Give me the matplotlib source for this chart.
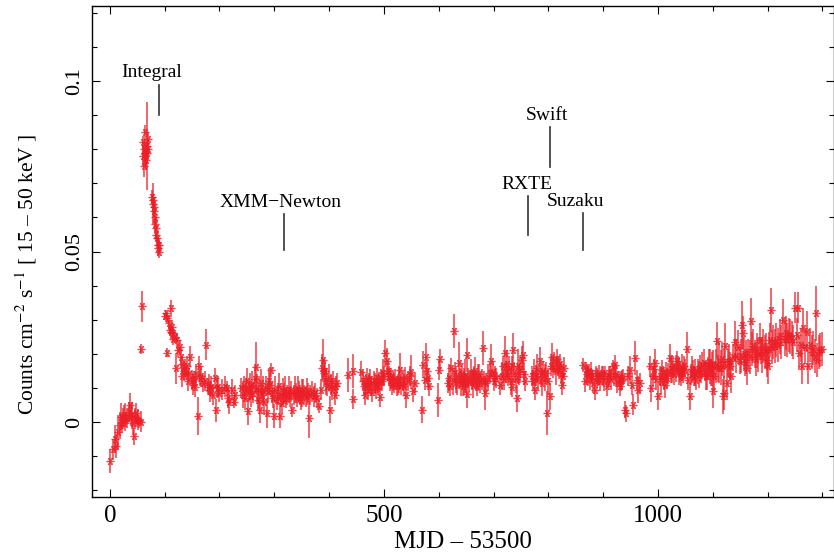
import matplotlib
matplotlib.use("Agg")
import matplotlib.pyplot as plt
from matplotlib.ticker import MultipleLocator

# ---------------------------------------------------------------------------
# Кривая блеска 15-50 кэВ по участкам
# ---------------------------------------------------------------------------
pre_x = [0, 5, 10, 12, 15, 18, 20, 22, 24, 26, 28, 30, 32, 34, 36, 38, 40,
         42, 44, 46, 48, 50, 52, 54, 56, 57, 58]
pre_y = [-0.0113, -0.008, -0.005, -0.007, -0.003, -0.001, 0.0016, -0.0003,
         0.001, 0.002, 0.0015, 0.0006, 0.0012, 0.003, 0.005, 0.0017, 0.002,
         -0.0003, -0.0042, 0.001, 0.0026, 0.0005, 0.0007, 0.0002, 0.0001,
         0.0215, 0.0339]
pre_e = [0.0035, 0.003, 0.004, 0.0035, 0.005, 0.004, 0.004, 0.003, 0.003,
         0.003, 0.004, 0.002, 0.003, 0.003, 0.0035, 0.003, 0.004, 0.003,
         0.0025, 0.003, 0.003, 0.002, 0.003, 0.002, 0.003, 0.0015, 0.0045]

flare_x = [60, 61, 62, 63, 64, 65, 66, 67, 68, 69, 70,
           77, 78, 79, 80, 81, 82, 83, 84, 85, 86, 87, 88, 89, 90]
flare_y = [0.078, 0.082, 0.075, 0.080, 0.079, 0.085, 0.077, 0.081, 0.079,
           0.083, 0.080,
           0.066, 0.064, 0.065, 0.062, 0.063, 0.060, 0.058, 0.057, 0.055,
           0.054, 0.052, 0.051, 0.050, 0.052]
flare_e = [0.003, 0.002, 0.003, 0.002, 0.004, 0.002, 0.003, 0.013, 0.003,
           0.002, 0.003,
           0.002, 0.006, 0.002, 0.002, 0.003, 0.002, 0.002, 0.003, 0.002,
           0.002, 0.002, 0.002, 0.002, 0.002]

decay_x = [100, 102, 104, 105, 107, 109, 111, 112, 113, 115,
           116, 118, 120, 122, 125, 128, 130, 131, 132, 135,
           137, 139, 141, 142, 144, 146, 149, 151, 153, 155,
           157, 160, 162, 164, 167, 170, 173, 176, 179, 181,
           183, 185, 188, 191, 194, 196, 197, 200, 205, 210,
           213, 216, 218, 222, 226, 229]
decay_y = [0.031, 0.032, 0.0305, 0.0204, 0.029, 0.027, 0.0265, 0.0334, 0.028, 0.026,
           0.0245, 0.025, 0.0158, 0.024, 0.021, 0.022, 0.019, 0.0134, 0.017, 0.015,
           0.016, 0.0144, 0.0163, 0.012, 0.014, 0.0192, 0.0124, 0.011, 0.0125, 0.0104,
           0.014, 0.0018, 0.0163, 0.013, 0.0134, 0.0114, 0.012, 0.0227, 0.0104, 0.011,
           0.009, 0.0104, 0.008, 0.0129, 0.0034, 0.010, 0.0104, 0.0085, 0.0095, 0.0104,
           0.010, 0.007, 0.006, 0.0095, 0.006, 0.008]
decay_e = [0.001, 0.001, 0.0015, 0.0012, 0.002, 0.0015, 0.002, 0.0025, 0.002, 0.002,
           0.002, 0.0015, 0.0045, 0.002, 0.002, 0.002, 0.0025, 0.003, 0.0025, 0.003,
           0.0025, 0.002, 0.003, 0.003, 0.002, 0.003, 0.003, 0.003, 0.0025, 0.003,
           0.003, 0.0055, 0.003, 0.0025, 0.003, 0.0025, 0.003, 0.0045, 0.0025, 0.003,
           0.003, 0.003, 0.003, 0.003, 0.0035, 0.003, 0.003, 0.0025, 0.003, 0.003,
           0.002, 0.003, 0.0035, 0.003, 0.002, 0.003]

xmm_x = [240, 243, 245, 247, 249, 250, 252, 254, 256, 258,
         260, 262, 264, 266, 268, 270, 272, 274, 276, 278,
         280, 282, 284, 286, 288, 290, 292, 294, 296, 298,
         300, 302, 304, 306, 308, 310, 312, 314, 316, 318,
         320, 322, 324, 326, 328, 330, 333, 335, 337, 339,
         341, 343, 345, 347, 349, 351, 353, 355, 357, 359,
         361, 363, 366, 369, 372, 375, 378, 382, 385, 387,
         389, 391, 393, 395, 397, 399, 401, 403, 405, 407,
         410, 412, 414]
xmm_y = [0.010, 0.008, 0.0105, 0.007, 0.0095, 0.012, 0.0031, 0.009, 0.0105, 0.0075,
         0.011, 0.0085, 0.0125, 0.0161, 0.010, 0.0065, 0.009, 0.0036, 0.0115, 0.008,
         0.0095, 0.006, 0.0105, 0.0027, 0.009, 0.0119, 0.011, 0.0153, 0.0085, 0.007,
         0.0017, 0.0095, 0.0065, 0.008, 0.0105, 0.0017, 0.0075, 0.0056, 0.009, 0.0085,
         0.0095, 0.007, 0.008, 0.0095, 0.0075, 0.009, 0.0036, 0.008, 0.0095, 0.0085,
         0.0075, 0.0095, 0.009, 0.008, 0.0065, 0.0085, 0.0095, 0.008, 0.0075, 0.009,
         0.0085, 0.0013, 0.008, 0.009, 0.0075, 0.0085, 0.007, 0.0048, 0.0095, 0.016,
         0.0183, 0.0145, 0.015, 0.012, 0.0105, 0.013, 0.0036, 0.011, 0.0095, 0.012,
         0.008, 0.0105, 0.0115]
xmm_e = [0.003, 0.004, 0.003, 0.0035, 0.003, 0.004, 0.004, 0.003, 0.004, 0.003,
         0.004, 0.003, 0.004, 0.0075, 0.004, 0.003, 0.0045, 0.004, 0.004, 0.003,
         0.004, 0.004, 0.003, 0.0045, 0.003, 0.004, 0.003, 0.002, 0.003, 0.003,
         0.0035, 0.004, 0.003, 0.003, 0.004, 0.0035, 0.003, 0.003, 0.004, 0.003,
         0.004, 0.003, 0.003, 0.004, 0.003, 0.003, 0.002, 0.003, 0.004, 0.003,
         0.003, 0.004, 0.003, 0.003, 0.003, 0.004, 0.003, 0.003, 0.003, 0.004,
         0.003, 0.006, 0.003, 0.003, 0.003, 0.003, 0.003, 0.002, 0.003, 0.004,
         0.006, 0.004, 0.003, 0.004, 0.003, 0.004, 0.004, 0.003, 0.003, 0.003,
         0.003, 0.003, 0.003]

mid1_x = [435, 443, 444, 459, 461, 463, 465, 467, 469, 471,
          473, 475, 477, 479, 481, 483, 485, 487, 489, 491,
          493, 495, 497, 499, 501, 502, 505, 507, 509, 511,
          513, 515, 517, 519, 521, 523, 525, 527, 530, 532,
          534, 536, 538, 541, 544, 547, 550, 553, 556,
          570, 572, 575, 577, 579, 581, 583]
mid1_y = [0.0139, 0.0151, 0.0067, 0.0148, 0.012, 0.0105, 0.008, 0.011, 0.013, 0.0095,
          0.0115, 0.0125, 0.0105, 0.0088, 0.012, 0.0113, 0.0098, 0.013, 0.011, 0.0118,
          0.0074, 0.0125, 0.012, 0.0145, 0.0135, 0.0202, 0.0178, 0.015, 0.0135, 0.0122,
          0.013, 0.011, 0.0122, 0.0115, 0.0125, 0.0105, 0.011, 0.0125, 0.0153, 0.011,
          0.012, 0.0105, 0.0132, 0.008, 0.012, 0.0135, 0.0148, 0.009, 0.0115,
          0.0036, 0.0168, 0.0124, 0.0192, 0.015, 0.013, 0.0105]
mid1_e = [0.005, 0.005, 0.003, 0.003, 0.003, 0.003, 0.003, 0.003, 0.003, 0.003,
          0.003, 0.003, 0.003, 0.003, 0.003, 0.003, 0.003, 0.003, 0.003, 0.003,
          0.003, 0.003, 0.003, 0.004, 0.003, 0.004, 0.004, 0.003, 0.003, 0.003,
          0.003, 0.003, 0.003, 0.003, 0.003, 0.003, 0.003, 0.004, 0.005, 0.003,
          0.003, 0.003, 0.003, 0.004, 0.003, 0.003, 0.005, 0.003, 0.003,
          0.004, 0.004, 0.003, 0.004, 0.003, 0.003, 0.003]

mid2_x = [598, 600, 602, 616, 619, 621, 623, 626, 628, 630,
          632, 634, 636, 638, 640, 642, 644, 646, 648, 650,
          651, 652, 654, 656, 658, 660, 662, 664, 666, 668,
          670, 672, 674, 676, 678, 680, 682, 684, 687, 690,
          693, 696, 699, 701, 703, 705, 712, 715, 717, 719,
          721, 723, 725, 727, 729, 731, 733, 734, 736, 738,
          740, 742, 744, 746, 748, 751, 754, 756, 758]
mid2_y = [0.0065, 0.0153, 0.0185, 0.0114, 0.013, 0.0105, 0.0158, 0.012, 0.0267, 0.0145,
          0.0125, 0.011, 0.0174, 0.013, 0.0115, 0.014, 0.0105, 0.012, 0.0135, 0.0115,
          0.0197, 0.0082, 0.013, 0.012, 0.0145, 0.0125, 0.011, 0.0135, 0.015, 0.012,
          0.0105, 0.013, 0.014, 0.0115, 0.0125, 0.0217, 0.012, 0.0086, 0.0115, 0.013,
          0.0145, 0.0178, 0.0148, 0.012, 0.0135, 0.013, 0.011, 0.0135, 0.0165, 0.0125,
          0.0202, 0.0145, 0.017, 0.0135, 0.0155, 0.012, 0.0165, 0.0104, 0.0212, 0.0145,
          0.0125, 0.007, 0.0163, 0.014, 0.0155, 0.0183, 0.0197, 0.014, 0.012]
mid2_e = [0.005, 0.003, 0.003, 0.003, 0.004, 0.003, 0.003, 0.004, 0.005, 0.003,
          0.004, 0.003, 0.006, 0.003, 0.004, 0.003, 0.003, 0.004, 0.005, 0.003,
          0.005, 0.004, 0.003, 0.003, 0.004, 0.003, 0.004, 0.003, 0.004, 0.003,
          0.003, 0.004, 0.003, 0.003, 0.003, 0.005, 0.003, 0.005, 0.003, 0.004,
          0.003, 0.005, 0.003, 0.003, 0.003, 0.003, 0.003, 0.004, 0.003, 0.003,
          0.005, 0.003, 0.004, 0.003, 0.004, 0.004, 0.003, 0.003, 0.005, 0.003,
          0.004, 0.004, 0.005, 0.003, 0.004, 0.004, 0.004, 0.003, 0.003]

swift_x = [770, 772, 774, 775, 777, 779, 781, 784, 786, 788,
           790, 793, 795, 797, 800, 803, 805, 807, 809, 811,
           813, 815, 817, 819, 821, 823, 825, 827, 829]
swift_y = [0.0135, 0.012, 0.0145, 0.0095, 0.0135, 0.016, 0.0125, 0.018, 0.014, 0.0115,
           0.015, 0.013, 0.0145, 0.0026, 0.012, 0.0075, 0.0165, 0.0192, 0.016, 0.0175,
           0.015, 0.0185, 0.0165, 0.0155, 0.017, 0.0145, 0.011, 0.0135, 0.016]
swift_e = [0.003, 0.003, 0.004, 0.003, 0.003, 0.004, 0.003, 0.004, 0.003, 0.004,
           0.003, 0.004, 0.003, 0.0065, 0.004, 0.004, 0.003, 0.004, 0.003, 0.003,
           0.004, 0.003, 0.003, 0.003, 0.003, 0.003, 0.003, 0.003, 0.003]

suzaku_x = [863, 866, 868, 870, 872, 874, 876, 878, 880, 882,
            885, 887, 889, 891, 893, 895, 897, 900, 902, 904,
            906, 908, 911, 913, 915, 917, 919, 921, 924, 926,
            928, 930, 932, 934, 936, 940, 942, 946, 949, 952,
            955, 958, 961, 964, 967]
suzaku_y = [0.0168, 0.0119, 0.0155, 0.014, 0.0135, 0.015, 0.0125, 0.0145, 0.0135, 0.0115,
            0.0095, 0.0145, 0.013, 0.0125, 0.0138, 0.012, 0.0145, 0.0135, 0.012, 0.0145,
            0.0105, 0.0125, 0.0134, 0.0145, 0.0125, 0.0163, 0.0135, 0.0168, 0.014, 0.0115,
            0.013, 0.0105, 0.012, 0.0124, 0.0135, 0.0036, 0.0026, 0.0135, 0.0153, 0.011,
            0.0051, 0.0188, 0.0124, 0.0095, 0.0115]
suzaku_e = [0.002, 0.003, 0.002, 0.003, 0.003, 0.002, 0.003, 0.003, 0.002, 0.003,
            0.003, 0.002, 0.003, 0.002, 0.003, 0.003, 0.002, 0.003, 0.003, 0.002,
            0.003, 0.002, 0.003, 0.002, 0.003, 0.002, 0.003, 0.003, 0.003, 0.003,
            0.002, 0.003, 0.003, 0.003, 0.002, 0.0025, 0.0025, 0.003, 0.004, 0.003,
            0.003, 0.005, 0.003, 0.004, 0.003]

late_x = [985, 988, 990, 992, 994, 997, 1000, 1003, 1005, 1007,
          1009, 1011, 1013, 1015, 1017, 1019, 1022, 1024, 1026, 1028,
          1030, 1032, 1034, 1036, 1038, 1040, 1042, 1044, 1046, 1048,
          1050, 1052, 1055, 1058, 1060, 1062, 1064, 1066, 1068, 1070,
          1072, 1074, 1077, 1079, 1081, 1083, 1085, 1087, 1089, 1091,
          1093, 1095, 1097, 1099, 1100, 1101, 1103, 1105, 1107, 1110,
          1112, 1114, 1117, 1118, 1120, 1121, 1122, 1125, 1128, 1130,
          1132, 1134, 1137, 1140, 1143, 1146, 1149, 1151, 1153, 1155,
          1157, 1159, 1161, 1163, 1165, 1167, 1169, 1171, 1174, 1176,
          1178, 1180, 1183, 1186, 1188, 1190, 1192, 1195, 1197, 1199,
          1200, 1202, 1204, 1206, 1208, 1210, 1213, 1216, 1219, 1222,
          1225, 1228, 1231, 1233, 1235, 1238, 1241, 1244, 1247, 1250,
          1253, 1256, 1258, 1260, 1262, 1265, 1268, 1271, 1274, 1277,
          1280, 1283, 1286, 1288, 1290, 1293, 1296, 1299]
late_y = [0.0163, 0.010, 0.0135, 0.0155, 0.0173, 0.0125, 0.0075, 0.0135, 0.012, 0.0153,
          0.0135, 0.0125, 0.011, 0.0145, 0.013, 0.0143, 0.0188, 0.0155, 0.0145, 0.0163,
          0.014, 0.0158, 0.0178, 0.0165, 0.015, 0.0148, 0.0135, 0.016, 0.0145, 0.0165,
          0.0155, 0.0214, 0.0124, 0.0075, 0.014, 0.0155, 0.0153, 0.0135, 0.0145, 0.0124,
          0.0155, 0.014, 0.0158, 0.0145, 0.0165, 0.0173, 0.015, 0.0135, 0.0134, 0.016,
          0.0175, 0.0163, 0.0145, 0.0155, 0.009, 0.017, 0.0135, 0.0165, 0.0239, 0.0158,
          0.0175, 0.016, 0.0185, 0.0075, 0.017, 0.0085, 0.0222, 0.0114, 0.0175, 0.018,
          0.0165, 0.0134, 0.019, 0.0236, 0.0195, 0.022, 0.018, 0.0195, 0.0285, 0.0261,
          0.020, 0.0175, 0.0192, 0.0158, 0.0205, 0.019, 0.0295, 0.0215, 0.0222, 0.020,
          0.0185, 0.021, 0.0197, 0.0241, 0.021, 0.0195, 0.0222, 0.0205, 0.021, 0.0183,
          0.0163, 0.0215, 0.0241, 0.0329, 0.022, 0.0235, 0.0222, 0.024, 0.0225, 0.0251,
          0.0235, 0.030, 0.0245, 0.026, 0.0241, 0.0255, 0.0251, 0.0245, 0.0236, 0.0336,
          0.0255, 0.0336, 0.0202, 0.0225, 0.0163, 0.0275, 0.022, 0.0265, 0.0163, 0.0227,
          0.0205, 0.0217, 0.0195, 0.0319, 0.0183, 0.0205, 0.0212, 0.0215]
late_e = [0.003, 0.004, 0.003, 0.003, 0.004, 0.003, 0.004, 0.003, 0.004, 0.003,
          0.003, 0.003, 0.004, 0.003, 0.003, 0.003, 0.004, 0.004, 0.003, 0.003,
          0.003, 0.004, 0.003, 0.003, 0.004, 0.003, 0.003, 0.004, 0.003, 0.003,
          0.003, 0.005, 0.003, 0.004, 0.003, 0.004, 0.003, 0.003, 0.004, 0.003,
          0.003, 0.004, 0.004, 0.003, 0.004, 0.004, 0.003, 0.004, 0.004, 0.003,
          0.004, 0.005, 0.004, 0.005, 0.005, 0.004, 0.004, 0.005, 0.0055, 0.004,
          0.006, 0.005, 0.005, 0.005, 0.004, 0.005, 0.007, 0.005, 0.004, 0.005,
          0.004, 0.005, 0.004, 0.006, 0.005, 0.005, 0.004, 0.005, 0.007, 0.005,
          0.005, 0.004, 0.005, 0.005, 0.004, 0.005, 0.007, 0.005, 0.005, 0.004,
          0.005, 0.005, 0.005, 0.005, 0.004, 0.005, 0.005, 0.005, 0.005, 0.005,
          0.005, 0.005, 0.005, 0.0065, 0.005, 0.005, 0.005, 0.005, 0.005, 0.005,
          0.005, 0.006, 0.005, 0.005, 0.005, 0.005, 0.005, 0.005, 0.005, 0.0045,
          0.005, 0.0045, 0.005, 0.005, 0.005, 0.006, 0.005, 0.006, 0.005, 0.005,
          0.005, 0.005, 0.005, 0.008, 0.005, 0.005, 0.005, 0.005]

# метки наблюдений: подпись, положение штриха, низ и верх штриха, центр подписи
obs_names = ["Integral", "XMM\u2212Newton", "RXTE", "Swift", "Suzaku"]
obs_mjd = [89, 318, 763, 803, 863]
obs_lo = [0.090, 0.0505, 0.0549, 0.0748, 0.0504]
obs_hi = [0.099, 0.061, 0.0663, 0.0865, 0.0613]
obs_text_x = [77, 312, 760, 798, 850]

mjd = pre_x + flare_x + decay_x + xmm_x + mid1_x + mid2_x + swift_x + suzaku_x + late_x
rate = pre_y + flare_y + decay_y + xmm_y + mid1_y + mid2_y + swift_y + suzaku_y + late_y
rate_err = pre_e + flare_e + decay_e + xmm_e + mid1_e + mid2_e + swift_e + suzaku_e + late_e

# ---------------------------------------------------------------------------
plt.rcParams.update({
    "font.family": ["Liberation Serif", "DejaVu Serif"],
    "mathtext.fontset": "stix",
    "xtick.direction": "in",
    "ytick.direction": "in",
    "xtick.top": True,
    "ytick.right": True,
    "xtick.major.size": 5.5,
    "ytick.major.size": 5.5,
    "xtick.minor.size": 3.5,
    "ytick.minor.size": 3.5,
    "xtick.major.width": 0.8,
    "ytick.major.width": 0.8,
    "xtick.minor.width": 0.8,
    "ytick.minor.width": 0.8,
    "axes.linewidth": 1.0,
})

fig = plt.figure(figsize=(8.34, 5.56), dpi=100)
ax = fig.add_axes([0.1107, 0.106, 0.8893, 0.883])

red = "#ec1e27"
ax.errorbar(mjd, rate, yerr=rate_err, fmt="none", ecolor=red, elinewidth=1.2,
            alpha=0.8, zorder=2)
ax.plot(mjd, rate, linestyle="none", marker=(6, 2, 90), markersize=5.5,
        markeredgewidth=0.9, color=red, alpha=0.8, zorder=3)

for name, xm, lo, hi, tx in zip(obs_names, obs_mjd, obs_lo, obs_hi, obs_text_x):
    ax.plot([xm, xm], [lo, hi], color="#333333", linewidth=1.2)
    ax.text(tx, hi + 0.0010, name, ha="center", va="bottom", fontsize=14)

ax.set_xlim(-32, 1321)
ax.set_ylim(-0.022, 0.122)
ax.xaxis.set_major_locator(MultipleLocator(500))
ax.xaxis.set_minor_locator(MultipleLocator(100))
ax.yaxis.set_major_locator(MultipleLocator(0.05))
ax.yaxis.set_minor_locator(MultipleLocator(0.01))
ax.xaxis.set_major_formatter(plt.FuncFormatter(lambda v, p: f"{v:g}"))
ax.yaxis.set_major_formatter(plt.FuncFormatter(lambda v, p: f"{v:g}"))
ax.tick_params(axis="x", which="major", labelsize=18, pad=5.5)
ax.tick_params(axis="y", which="major", labelsize=16, pad=6)
plt.setp(ax.get_yticklabels(), rotation=90, va="center")

ax.set_xlabel("MJD \u2013 53500", fontsize=18, labelpad=3)
ax.set_ylabel("Counts cm$^{-2}$ s$^{-1}$ [ 15 \u2013 50 keV ]", fontsize=15.5)
ax.yaxis.set_label_coords(-0.072, 0.454)

fig.savefig("out.png", dpi=100)
